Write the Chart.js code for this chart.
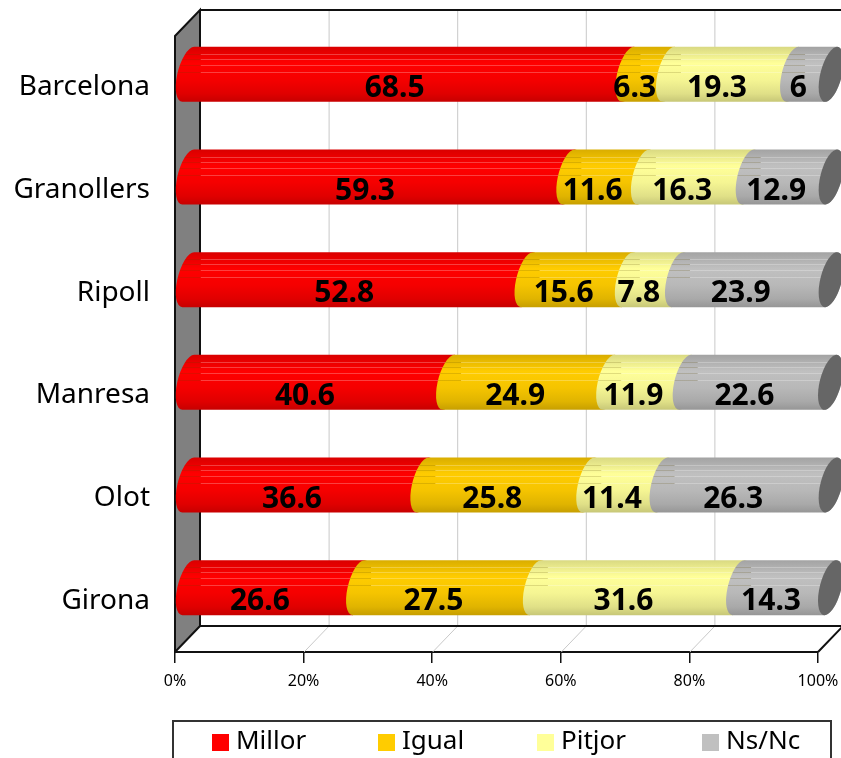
<!DOCTYPE html>
<html>
<head>
<meta charset="utf-8">
<title>Chart</title>
<script src="https://cdn.jsdelivr.net/npm/chart.js@4"></script>
<style>
  html, body { margin: 0; padding: 0; background: #fff; overflow: hidden; }
  canvas { display: block; }
</style>
</head>
<body>
<canvas id="chart" width="841" height="758"></canvas>
<script>
const categories = ['Barcelona', 'Granollers', 'Ripoll', 'Manresa', 'Olot', 'Girona'];
const millor = [68.5, 59.3, 52.8, 40.6, 36.6, 26.6];
const igual = [6.3, 11.6, 15.6, 24.9, 25.8, 27.5];
const pitjor = [19.3, 16.3, 7.8, 11.9, 11.4, 31.6];
const nsnc = [6, 12.9, 23.9, 22.6, 26.3, 14.3];
const xTicks = [0, 20, 40, 60, 80, 100];

const FONT = '"Noto Sans", sans-serif';
const DEPTH_X = 25;
const DEPTH_Y = 26;
const RADIUS_V = 24.2;   // vertical half size of the cylinder end
const T_BOTTOM = Math.atan2(RADIUS_V, -DEPTH_Y / 2);
const T_TOP = T_BOTTOM + Math.PI;

function shade(rgb, f) {
  return 'rgb(' + rgb.map(c => Math.round(c * f)).join(',') + ')';
}

function endArc(ctx, x, y, from, to) {
  ctx.save();
  ctx.transform(DEPTH_X / 2, -DEPTH_Y / 2, 0, RADIUS_V, x + DEPTH_X / 2, y - DEPTH_Y / 2);
  ctx.arc(0, 0, 1, from, to, true);
  ctx.restore();
}

const rgbColors = [[255, 0, 0], [255, 204, 0], [255, 255, 153], [192, 192, 192]];

function drawBox(chart) {
  const { ctx, chartArea: a, scales } = chart;
  ctx.save();
  ctx.lineWidth = 1;
  ctx.strokeStyle = '#c8c8c8';
  scales.x.ticks.forEach(t => {
    const x = scales.x.getPixelForValue(t.value);
    if (t.value > 0) {
      ctx.beginPath();
      ctx.moveTo(x + 0.5, a.bottom);
      ctx.lineTo(x + DEPTH_X + 0.5, a.bottom - DEPTH_Y);
      ctx.lineTo(x + DEPTH_X + 0.5, a.top - DEPTH_Y);
      ctx.stroke();
    }
  });
  // gray side wall
  ctx.fillStyle = '#808080';
  ctx.strokeStyle = '#111';
  ctx.lineWidth = 2;
  ctx.beginPath();
  ctx.moveTo(a.left, a.bottom);
  ctx.lineTo(a.left, a.top);
  ctx.lineTo(a.left + DEPTH_X, a.top - DEPTH_Y);
  ctx.lineTo(a.left + DEPTH_X, a.bottom - DEPTH_Y);
  ctx.closePath();
  ctx.fill();
  ctx.stroke();
  // top and floor edges
  ctx.beginPath();
  ctx.moveTo(a.left + DEPTH_X, a.top - DEPTH_Y);
  ctx.lineTo(a.right + DEPTH_X, a.top - DEPTH_Y);
  ctx.moveTo(a.left + DEPTH_X, a.bottom - DEPTH_Y);
  ctx.lineTo(a.right + DEPTH_X, a.bottom - DEPTH_Y);
  ctx.moveTo(a.right, a.bottom);
  ctx.lineTo(a.right + DEPTH_X, a.bottom - DEPTH_Y);
  ctx.stroke();
  ctx.restore();
}

function drawSeries(chart, meta, index) {
  const { ctx } = chart;
  const rgb = rgbColors[index];
  ctx.save();
  meta.data.forEach(bar => {
    const x0 = bar.base, x1 = bar.x, y = bar.y;
    const reach = Math.hypot(DEPTH_Y / 2, RADIUS_V);
    const top = y - DEPTH_Y / 2 - reach;
    const bottom = y - DEPTH_Y / 2 + reach;
    const g = ctx.createLinearGradient(0, top, 0, bottom);
    g.addColorStop(0, shade(rgb, 0.85));
    g.addColorStop(0.1, shade(rgb, 0.9));
    g.addColorStop(0.3, shade(rgb, 1));
    g.addColorStop(0.6, shade(rgb, 0.96));
    g.addColorStop(0.85, shade(rgb, 0.88));
    g.addColorStop(1, shade(rgb, 0.78));
    ctx.beginPath();
    endArc(ctx, x0, y, T_TOP, T_BOTTOM);
    endArc(ctx, x1, y, T_BOTTOM, T_TOP - 2 * Math.PI);
    ctx.closePath();
    ctx.fillStyle = g;
    ctx.fill();
    // thin highlight lines on the upper part
    ctx.save();
    ctx.clip();
    ctx.lineWidth = 1;
    [7, 12, 18, 25].forEach(off => {
      const ly = Math.round(top + off) + 0.5;
      ctx.strokeStyle = 'rgba(255,255,255,0.25)';
      ctx.beginPath();
      ctx.moveTo(x0 + DEPTH_X, ly);
      ctx.lineTo(x1 + DEPTH_X, ly);
      ctx.stroke();
      ctx.strokeStyle = 'rgba(90,70,0,0.18)';
      ctx.beginPath();
      ctx.moveTo(x0, ly);
      ctx.lineTo(x0 + DEPTH_X, ly);
      ctx.stroke();
    });
    ctx.restore();
  });
  ctx.restore();
}

const cylinderPlugin = {
  id: 'cylinder',
  beforeDatasetsDraw(chart) {
    drawBox(chart);
    const { ctx } = chart;
    // left to right, so each segment's curved edge lies over the one before it
    chart.data.datasets.forEach((ds, i) => drawSeries(chart, chart.getDatasetMeta(i), i));
    // dark end cap on the last series
    const last = chart.getDatasetMeta(chart.data.datasets.length - 1);
    ctx.save();
    last.data.forEach(bar => {
      ctx.beginPath();
      endArc(ctx, bar.x, bar.y, 0, -2 * Math.PI);
      ctx.closePath();
      ctx.fillStyle = '#666';
      ctx.fill();
    });
    ctx.restore();
  },
  // the default flat rectangles are replaced by the cylinders above
  beforeDatasetDraw() {
    return false;
  },
  afterDatasetsDraw(chart) {
    const { ctx } = chart;
    ctx.save();
    ctx.font = 'bold 30px ' + FONT;
    ctx.fillStyle = '#000';
    ctx.textAlign = 'center';
    ctx.textBaseline = 'middle';
    chart.data.datasets.forEach((ds, d) => {
      chart.getDatasetMeta(d).data.forEach((bar, i) => {
        ctx.fillText(String(ds.data[i]), (bar.base + bar.x) / 2 - 1, bar.y + 1);
      });
    });
    ctx.restore();
  },
  // legend box at the bottom, evenly spaced, cut by the page edge
  afterDraw(chart) {
    const { ctx } = chart;
    ctx.save();
    ctx.strokeStyle = '#333';
    ctx.lineWidth = 2;
    ctx.strokeRect(173, 721, 658, 60);
    ctx.font = '26px ' + FONT;
    ctx.textBaseline = 'middle';
    ctx.textAlign = 'left';
    const legendX = [212, 378, 537, 702];
    chart.data.datasets.forEach((ds, i) => {
      ctx.fillStyle = ds.backgroundColor;
      ctx.fillRect(legendX[i], 734, 17, 17);
      ctx.fillStyle = '#000';
      ctx.fillText(ds.label, legendX[i] + 24, 742);
    });
    ctx.restore();
  }
};

new Chart(document.getElementById('chart'), {
  type: 'bar',
  data: {
    labels: categories,
    datasets: [
      { label: 'Millor', data: millor, backgroundColor: '#ff0000' },
      { label: 'Igual', data: igual, backgroundColor: '#ffcc00' },
      { label: 'Pitjor', data: pitjor, backgroundColor: '#ffff99' },
      { label: 'Ns/Nc', data: nsnc, backgroundColor: '#c0c0c0' }
    ]
  },
  plugins: [cylinderPlugin],
  options: {
    indexAxis: 'y',
    responsive: false,
    animation: false,
    layout: { padding: { top: 36, right: 23, left: 0, bottom: 0 } },
    plugins: {
      legend: { display: false },
      tooltip: { enabled: false }
    },
    scales: {
      x: {
        stacked: true,
        min: 0,
        max: 100,
        afterBuildTicks: s => { s.ticks = xTicks.map(v => ({ value: v })); },
        afterFit: s => { s.height = 106; s.paddingLeft = 0; s.paddingRight = 0; },
        grid: { drawOnChartArea: false, color: '#111', tickLength: 11, lineWidth: 1.5 },
        border: { color: '#111', width: 2 },
        ticks: {
          color: '#000',
          maxRotation: 0,
          padding: 9,
          font: { family: FONT, size: 16 },
          callback: v => v + '%'
        }
      },
      y: {
        stacked: true,
        afterFit: s => { s.width = 175; s.paddingTop = 0; s.paddingBottom = 0; },
        grid: { display: false },
        border: { display: false },
        ticks: {
          color: '#000',
          padding: 17,
          font: { family: FONT, size: 28 }
        }
      }
    }
  }
});
</script>
</body>
</html>
